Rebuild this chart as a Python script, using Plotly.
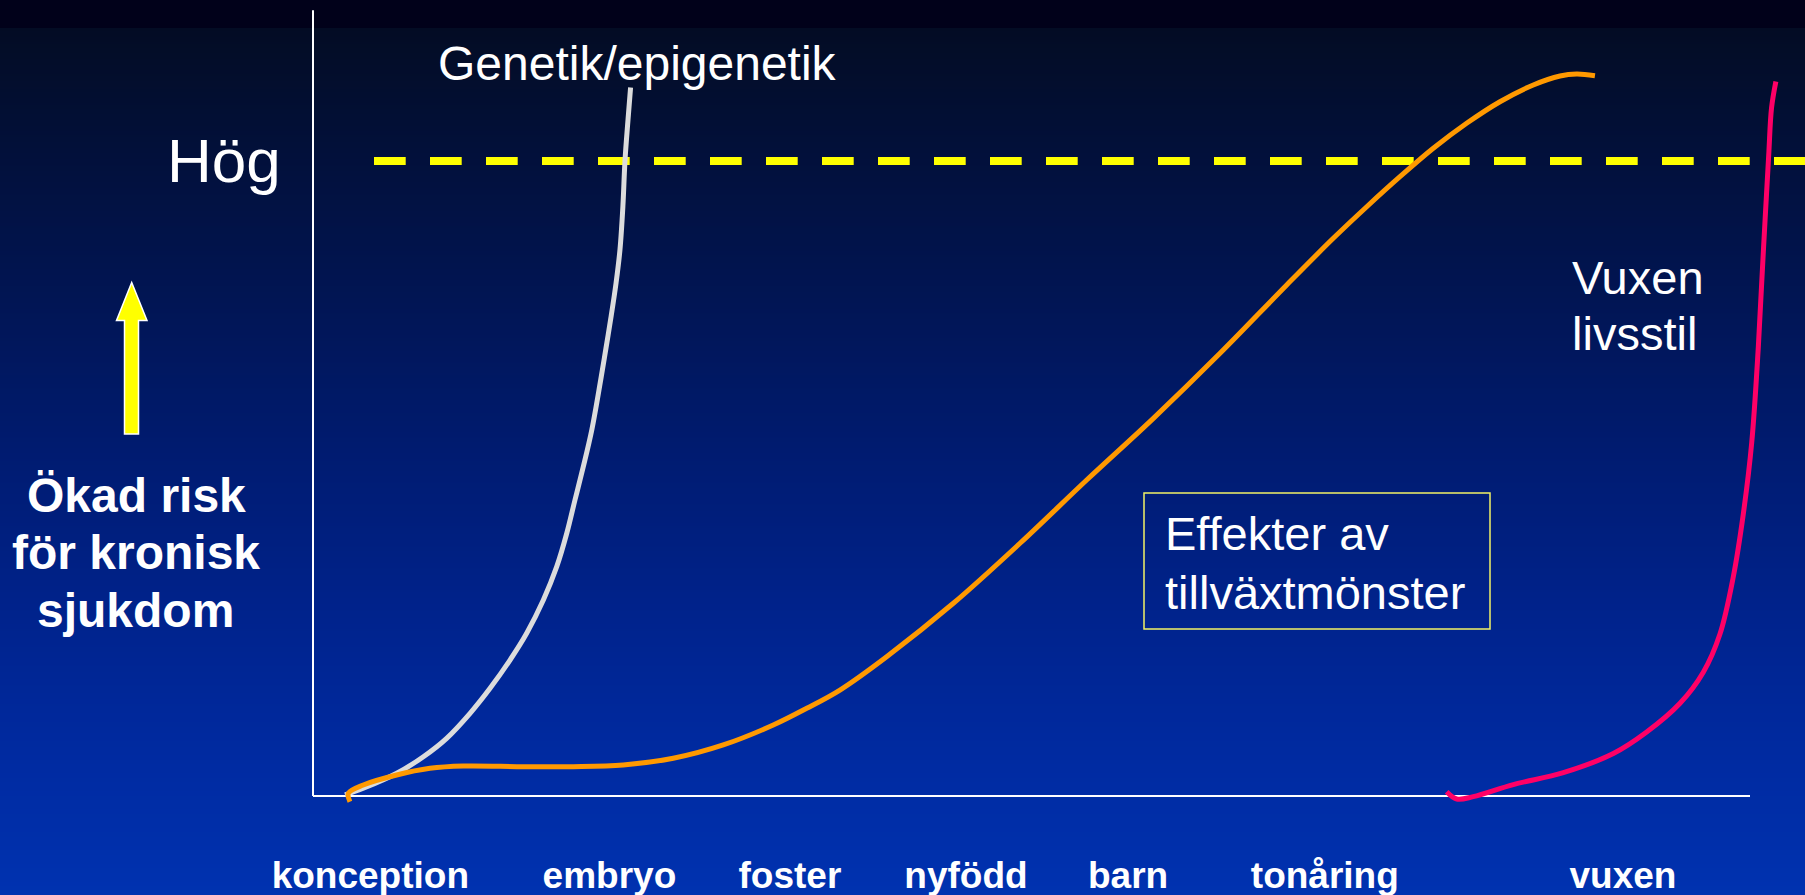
import base64, struct, zlib
import plotly.graph_objects as go

W, H = 1805, 895

# ---------------- data ----------------
stages = ["konception", "embryo", "foster", "nyfödd", "barn", "tonåring", "vuxen"]
stage_pos = [3.99, 20.63, 33.19, 45.44, 56.72, 70.41, 91.16]

hog_level = 80

genetik_x = [2.23, 3.50, 5.83, 7.68, 9.30, 10.93, 12.32, 13.71, 14.87, 16.03, 16.96, 17.66, 18.23,
             18.81, 19.40, 20.02, 20.39, 20.74, 21.09, 21.36, 21.57, 21.71, 21.92, 22.10]
genetik_y = [0.13, 0.97, 2.86, 4.95, 7.27, 10.42, 13.57, 17.13, 20.50, 24.69, 28.89, 33.10, 37.29,
             41.49, 46.11, 52.41, 56.44, 60.35, 64.63, 68.79, 74.46, 80.00, 85.17, 89.26]

tillvaxt_x = [2.57, 2.46, 3.50, 5.82, 8.14, 10.46, 14.63, 18.11, 21.59, 25.07, 28.55, 32.03, 34.36, 36.67,
              39.92, 44.56, 49.20, 53.84, 58.48, 63.12, 67.76, 71.00, 73.33, 75.64, 77.96, 80.28, 82.60,
              84.92, 86.78, 87.94, 89.21]
tillvaxt_y = [-0.72, 0.34, 1.39, 2.65, 3.49, 3.78, 3.70, 3.70, 3.91, 4.75, 6.43, 8.94, 11.05, 13.35,
              17.55, 24.28, 31.84, 39.81, 47.58, 55.77, 64.38, 70.26, 74.24, 78.02, 81.60, 84.75, 87.47,
              89.58, 90.71, 90.96, 90.75]

livsstil_x = [78.89, 79.59, 80.74, 83.53, 87.01, 90.49, 92.81, 95.13, 96.75, 97.91, 98.84, 99.53,
              100.12, 100.58, 100.93, 101.30, 101.50, 101.80]
livsstil_y = [0.53, -0.38, -0.08, 1.44, 2.94, 5.35, 8.06, 11.68, 15.60, 20.41, 27.64, 35.48,
              44.52, 56.57, 68.62, 80.67, 86.70, 90.02]

# ---------------- layout geometry ----------------
SX = (1750 - 313) / 100.0      # px per x unit
SY = (796 - 161) / 80.0        # px per y unit
X_LEFT_PX, X_RIGHT_PX = 300, W
Y_TOP_PX, Y_BOT_PX = 0, 810
x_range = [(X_LEFT_PX - 313) / SX, (X_RIGHT_PX - 313) / SX]
y_range = [(796 - Y_BOT_PX) / SY, (796 - Y_TOP_PX) / SY]


def px(x):
    return x / W


def py(y):
    return 1 - y / H


# ---------------- gradient background image ----------------
stops = [(0, (1, 1, 26)), (27, (1, 1, 26)), (28, (3, 12, 36)), (150, (2, 16, 58)),
         (300, (1, 21, 84)), (450, (0, 27, 112)), (600, (0, 34, 138)), (750, (0, 42, 160)),
         (895, (0, 50, 176))]


def color_at(y):
    for (y0, c0), (y1, c1) in zip(stops[:-1], stops[1:]):
        if y0 <= y <= y1:
            t = 0 if y1 == y0 else (y - y0) / (y1 - y0)
            return tuple(int(round(a + (b - a) * t)) for a, b in zip(c0, c1))
    return stops[-1][1]


raw = b"".join(b"\x00" + bytes(color_at(r)) for r in range(H))


def chunk(tag, data):
    return struct.pack(">I", len(data)) + tag + data + struct.pack(">I", zlib.crc32(tag + data) & 0xFFFFFFFF)


png = (b"\x89PNG\r\n\x1a\n" + chunk(b"IHDR", struct.pack(">IIBBBBB", 1, H, 8, 2, 0, 0, 0))
       + chunk(b"IDAT", zlib.compress(raw)) + chunk(b"IEND", b""))
bg_uri = "data:image/png;base64," + base64.b64encode(png).decode()

FONT = "Liberation Sans, Arial, sans-serif"

fig = go.Figure()
fig.add_trace(go.Scatter(x=genetik_x, y=genetik_y, mode="lines",
                         line=dict(color="#DCDCDC", width=5, shape="spline", smoothing=1.0),
                         hoverinfo="skip", showlegend=False))
fig.add_trace(go.Scatter(x=tillvaxt_x, y=tillvaxt_y, mode="lines",
                         line=dict(color="#FF9900", width=5, shape="spline", smoothing=1.0),
                         hoverinfo="skip", showlegend=False))
fig.add_trace(go.Scatter(x=livsstil_x, y=livsstil_y, mode="lines",
                         line=dict(color="#FF0066", width=5, shape="spline", smoothing=1.0),
                         hoverinfo="skip", showlegend=False))

shapes = [
    # axes
    dict(type="line", xref="x", yref="y", x0=0, x1=100, y0=0, y1=0,
         line=dict(color="white", width=2), layer="below"),
    dict(type="line", xref="x", yref="y", x0=0, x1=0, y0=0, y1=99,
         line=dict(color="white", width=2), layer="below"),
    # high-risk dashed level
    dict(type="line", xref="x", yref="y", x0=(374 - 313) / SX, x1=110, y0=hog_level, y1=hog_level,
         line=dict(color="#FFFF00", width=8, dash="31.7px,24.3px"), layer="below"),
    # text box
    dict(type="rect", xref="paper", yref="paper", x0=px(1144), x1=px(1490), y0=py(629), y1=py(493),
         line=dict(color="#F2F266", width=1.5), fillcolor="rgba(0,0,0,0)"),
    # up arrow
    dict(type="path", xref="paper", yref="paper",
         path="M {},{} L {},{} L {},{} L {},{} L {},{} L {},{} L {},{} Z".format(
             px(131.7), py(282.5), px(147), py(320.5), px(138.5), py(320.5), px(138.5), py(434),
             px(124.5), py(434), px(124.5), py(320.5), px(116.5), py(320.5)),
         fillcolor="#FFFF00", line=dict(color="white", width=1.5)),
]

ann = []


def text(t, x, y, size, xanchor="left", bold=False):
    ann.append(dict(text=t, x=px(x), y=py(y), xref="paper", yref="paper", showarrow=False,
                    xanchor=xanchor, yanchor="middle",
                    font=dict(family=FONT, size=size, color="white", weight="bold" if bold else "normal")))


text("Genetik/epigenetik", 436, 63.5, 48)
text("Hög", 283, 160.2, 62, xanchor="right")
text("Vuxen", 1570, 277.2, 47)
text("livsstil", 1570, 333.7, 47)
text("Effekter av", 1163, 533.7, 47)
text("tillväxtmönster", 1163, 592, 47)
text("Ökad risk", 136.6, 495.1, 48, xanchor="center", bold=True)
text("för kronisk", 135.5, 552.7, 48, xanchor="center", bold=True)
text("sjukdom", 135, 610.1, 48, xanchor="center", bold=True)

fig.update_layout(
    width=W, height=H, autosize=False,
    margin=dict(l=0, r=0, t=0, b=0, pad=0, autoexpand=False),
    paper_bgcolor="#001A6E",
    plot_bgcolor="rgba(0,0,0,0)",
    showlegend=False,
    images=[dict(source=bg_uri, xref="paper", yref="paper", x=0, y=1, sizex=1, sizey=1,
                 xanchor="left", yanchor="top", sizing="stretch", layer="below")],
    shapes=shapes,
    annotations=ann,
    xaxis=dict(domain=[X_LEFT_PX / W, 1], range=x_range, showgrid=False, zeroline=False,
               showline=False, ticks="", tickvals=stage_pos, ticktext=stages, automargin=False,
               tickfont=dict(family=FONT, size=37, color="white", weight="bold"),
               ticklabelstandoff=40, fixedrange=True),
    yaxis=dict(domain=[1 - Y_BOT_PX / H, 1], range=y_range, visible=False, automargin=False,
               fixedrange=True),
)

fig.write_html("out.html", config={"displayModeBar": False},
               post_script="document.body.style.margin='0';document.body.style.overflow='hidden';")
